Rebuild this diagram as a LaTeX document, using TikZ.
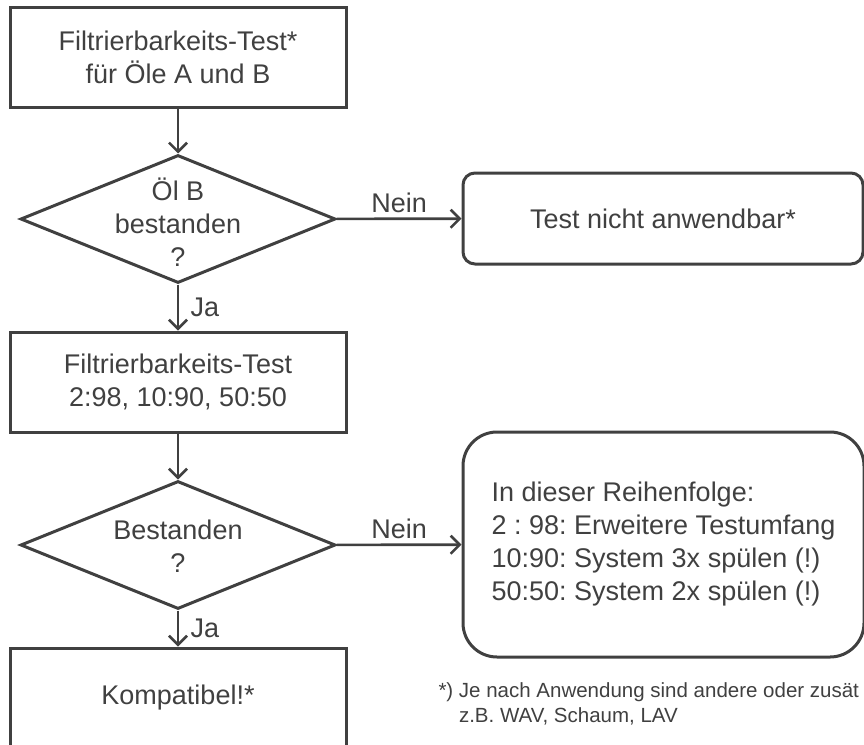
\documentclass[tikz,border=0pt]{standalone}
\usepackage{fontspec}
\setmainfont{Liberation Sans}
\usepackage{tikz}
\usetikzlibrary{shapes.geometric,arrows.meta}
\definecolor{flowgray}{HTML}{404040}
\frenchspacing
\tikzstyle{block} = [draw, rectangle, minimum width=336pt, minimum height=100pt, align=center]
\tikzstyle{decision} = [draw, diamond, minimum width=315pt, minimum height=128pt, inner sep=0pt]
\tikzstyle{endbox} = [draw, rectangle, rounded corners=12pt, minimum width=400pt, minimum height=91pt]
\tikzstyle{flowtext} = [align=center, inner sep=0pt]

\begin{document}
\begin{tikzpicture}[x=1pt,y=-1pt,line width=3pt,color=flowgray,text=flowgray,
    font=\fontsize{27}{33}\selectfont,>={Straight Barb[length=9pt,width=18pt,line width=2.6pt]}]
	\useasboundingbox (0,0) rectangle (864,744);
	\clip (0,0) rectangle (864,744);
	\node[block] (start) at (178,57) {Filtrierbarkeits-Test*\\f\"ur \"Ole A und B};
	\node[decision] (oilb) at (178,219) {};
	\node[flowtext] (oilbtext) at (178,222) {\"Ol B\\bestanden\\?};
	\node[endbox] (notapp) at (663,218.5) {Test nicht anwendbar*};
	\node[block] (mix) at (178,382) {Filtrierbarkeits-Test\\2:98, 10:90, 50:50};
	\node[decision] (passed) at (178,545) {};
	\node[flowtext] (passedtext) at (178,546) {Bestanden\\?};
	\node[endbox, rounded corners=34pt, minimum width=401pt, minimum height=225pt, align=left] (order) at (663.5,544.5)
		{In dieser Reihenfolge:\\2 : 98: Erweitere Testumfang\\10:90: System 3x sp\"ulen (!)\\50:50: System 2x sp\"ulen (!)};
	\node[block] (compat) at (178,698) {Kompatibel!*};
	\node[anchor=base west, align=left, inner sep=0pt, font=\fontsize{20.5}{25}\selectfont] (note) at (437,722)
		{*) Je nach Anwendung sind andere oder zus\"at\\\hphantom{*) }z.B. WAV, Schaum, LAV};
	\draw[->,line width=2.6pt] (start) -- (oilb);
	\draw[->,line width=2.6pt] (oilb) -- node[above=1pt] {Nein} (notapp);
	\draw[->,line width=2.6pt] (oilb) -- node[right=8pt] {Ja} (mix);
	\draw[->,line width=2.6pt] (mix) -- (passed);
	\draw[->,line width=2.6pt] (passed) -- node[above=1pt] {Nein} (order);
	\draw[->,line width=2.6pt] (passed) -- node[right=8pt] {Ja} (compat);
\end{tikzpicture}
\end{document}
